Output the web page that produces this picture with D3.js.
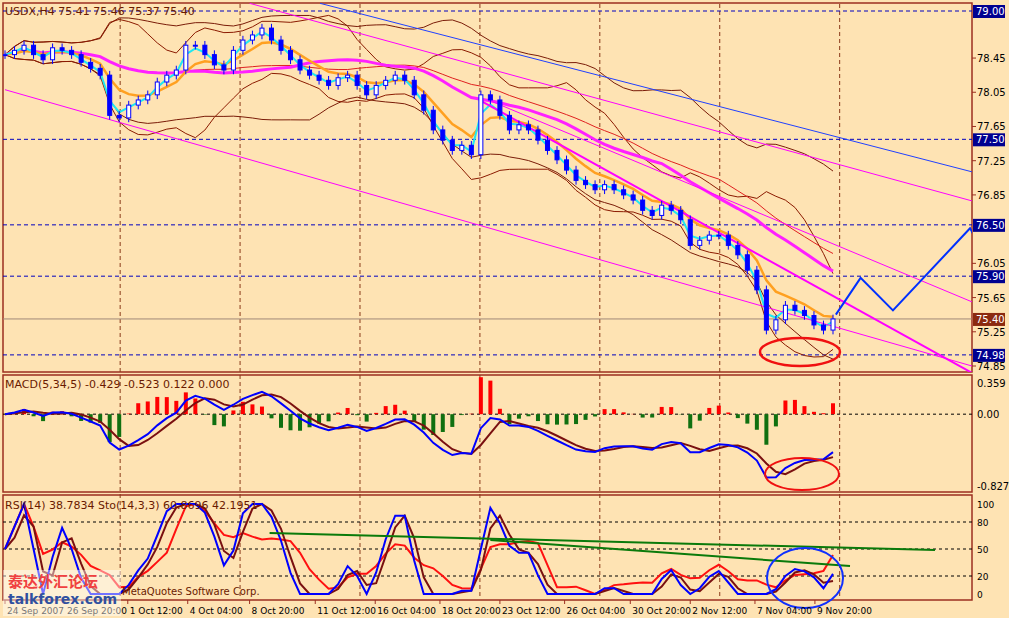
<!DOCTYPE html><html><head><meta charset="utf-8">
<script src="https://cdn.jsdelivr.net/npm/d3@7"></script>
<style>body{margin:0;background:#fee3b3}svg{display:block;font-family:Tahoma,"DejaVu Sans",sans-serif}</style></head><body>
<svg id="c" width="1009" height="618"></svg>
<script>
const closes=[78.49,78.54,78.60,78.49,78.43,78.57,78.54,78.49,78.40,78.33,78.25,77.78,77.75,77.90,77.96,78.02,78.17,78.25,78.31,78.60,78.60,78.49,78.37,78.31,78.54,78.66,78.72,78.80,78.66,78.54,78.43,78.31,78.25,78.19,78.13,78.22,78.25,78.13,78.02,78.13,78.19,78.25,78.19,78.02,77.84,77.61,77.49,77.37,77.43,77.32,78.02,77.96,77.78,77.61,77.67,77.61,77.49,77.37,77.26,77.14,77.02,76.97,76.91,76.97,76.91,76.85,76.79,76.67,76.61,76.73,76.67,76.56,76.26,76.32,76.38,76.38,76.26,76.15,75.97,75.74,75.27,75.39,75.56,75.50,75.44,75.33,75.27,75.40];
const priceTicks=[78.45,78.05,77.65,77.25,76.85,76.05,75.65,75.25,74.85];
const levelLines=[79.00,77.50,76.50,75.90,74.98];
const currentPrice=75.40;
const dateLabels=["24 Sep 2007","26 Sep 20:00","1 Oct 12:00","4 Oct 04:00","8 Oct 20:00","11 Oct 12:00","16 Oct 04:00","18 Oct 20:00","23 Oct 12:00","26 Oct 04:00","30 Oct 20:00","2 Nov 12:00","7 Nov 04:00","9 Nov 20:00"];
const dateIdx=[0,6.3,12.9,19.2,25.7,32.6,38.9,45.7,52,58.8,65.7,72,78.8,85.1];
const gridIdx=[12.1,24.7,37.3,49.9,62.5,75.1,87.7];
const projection=[[87.3,75.45],[89.9,75.88],[93.3,75.50],[101.4,76.46],[101.9,76.36]];
const trendLines=[ // [i1,p1,i2,p2,width,color]
 [25.7,79.09,101.6,76.78,1,"#ff00ff"],[0,78.08,101.6,74.85,1,"#ff00ff"],[50,77.95,101.6,74.77,2,"#ff00ff"],[51,77.95,101.6,75.60,1,"#ff00ff"],[33.1,79.09,101.6,77.12,1,"#2040ff"]];
const macdTicks=[0.359,0,-0.827], rsiTicks=[100,80,50,20,0];

const svg=d3.select("#c"), n=closes.length;
const x=d3.scaleLinear().domain([0,n-1]).range([5,833]);
const y=d3.scaleLinear().domain([74.85,79.00]).range([366,11]);
const ym=d3.scaleLinear().domain([-0.827,0.359]).range([486,383]);
const yr=d3.scaleLinear().domain([0,100]).range([594,504]);
const frame="#9c2f20", grid="#8b3a1a";
svg.append("rect").attr("width",1009).attr("height",618).attr("fill","#fee3b3");
[[3,3,969,369],[3,375,969,117],[3,495,969,105]].forEach(r=>svg.append("rect").attr("x",r[0]).attr("y",r[1]).attr("width",r[2]).attr("height",r[3]).attr("fill","none").attr("stroke",frame).attr("stroke-width",1.5));
svg.append("clipPath").attr("id","cm").append("rect").attr("x",3).attr("y",3).attr("width",969).attr("height",369);
gridIdx.forEach(g=>svg.append("line").attr("x1",x(g)).attr("x2",x(g)).attr("y1",4).attr("y2",599).attr("stroke",grid).attr("stroke-dasharray","4,3"));
const ema=(a,p)=>{const k=2/(p+1);let r=[],e=a[0];a.forEach((v,i)=>{e=i?v*k+e*(1-k):v;r.push(e)});return r};
const sma=(a,p)=>a.map((v,i)=>{const s=a.slice(Math.max(0,i-p+1),i+1);return d3.mean(s)});
const sd=(a,p)=>a.map((v,i)=>{const s=a.slice(Math.max(0,i-p+1),i+1);return d3.deviation(s)||0});
const m10=sma(closes,10),s10=sd(closes,10),m20=sma(closes,22),s20=sd(closes,22);
const line=(ys)=>d3.line().x((d,i)=>x(i)).y(d=>ys(d));
const g=svg.append("g").attr("clip-path","url(#cm)");
levelLines.forEach(l=>g.append("line").attr("x1",3).attr("x2",972).attr("y1",y(l)).attr("y2",y(l)).attr("stroke","#0000c0").attr("stroke-dasharray","4,3"));
g.append("line").attr("x1",3).attr("x2",972).attr("y1",y(currentPrice)).attr("y2",y(currentPrice)).attr("stroke","#a08878");
const draw=(arr,c,w,yy=y)=>g.append("path").attr("d",line(yy)(arr)).attr("fill","none").attr("stroke",c).attr("stroke-width",w);
draw(m20.map((m,i)=>m+2*s20[i]),"#7a1c08",1);draw(m20.map((m,i)=>m-2*s20[i]),"#7a1c08",1);
draw(m10.map((m,i)=>m+2*s10[i]),"#8b1a00",1);draw(m10.map((m,i)=>m-2*s10[i]),"#8b1a00",1);
draw(sma(closes,26),"#e02020",1);
draw(sma(closes,20),"#ff20ff",3);
draw(ema(closes,6),"#ffa020",2.5);
draw(ema(closes,2),"#20e8f0",2);
trendLines.forEach(t=>g.append("line").attr("x1",x(t[0])).attr("y1",y(t[1])).attr("x2",x(t[2])).attr("y2",y(t[3])).attr("stroke",t[5]).attr("stroke-width",t[4]));
closes.forEach((c,i)=>{const o=i?closes[i-1]:c, hi=Math.max(o,c)+0.05, lo=Math.min(o,c)-0.05, cx=x(i);
 g.append("line").attr("x1",cx).attr("x2",cx).attr("y1",y(hi)).attr("y2",y(lo)).attr("stroke","#0000ff");
 g.append("rect").attr("x",cx-2).attr("width",4).attr("y",y(Math.max(o,c))).attr("height",Math.max(1,Math.abs(y(o)-y(c)))).attr("fill",c>=o?"#fff":"#0000ff").attr("stroke","#0000ff");});
g.append("path").attr("d",d3.line().x(d=>x(d[0])).y(d=>y(d[1]))(projection)).attr("fill","none").attr("stroke","#0030ff").attr("stroke-width",2);
g.append("ellipse").attr("cx",800).attr("cy",352).attr("rx",40).attr("ry",14).attr("fill","none").attr("stroke","#f01010").attr("stroke-width",2.5);
const ax=svg.append("g").attr("font-size",10);
priceTicks.forEach(p=>{ax.append("line").attr("x1",972).attr("x2",976).attr("y1",y(p)).attr("y2",y(p)).attr("stroke",frame);ax.append("text").attr("x",977).attr("y",y(p)+4).text(p.toFixed(2));});
levelLines.concat([currentPrice]).forEach(p=>{ax.append("rect").attr("x",973).attr("y",y(p)-6).attr("width",32).attr("height",13).attr("fill",p===currentPrice?"#8b2a10":"#000090");ax.append("text").attr("x",976).attr("y",y(p)+4).attr("fill","#fff").text(p.toFixed(2));});
svg.append("text").attr("x",5).attr("y",15).attr("font-size",11).attr("fill","#6a1a00").text("USDX,H4  75.41 75.46 75.37 75.40");
const macd=ema(closes,3).map((v,i)=>v-ema(closes,17)[i]), sig=sma(macd,3);
svg.append("line").attr("x1",3).attr("x2",972).attr("y1",ym(0)).attr("y2",ym(0)).attr("stroke","#000").attr("stroke-dasharray","3,3");
macd.forEach((m,i)=>{const h=(m-sig[i])*2.2;svg.append("rect").attr("x",x(i)-2).attr("width",4).attr("y",Math.min(ym(0),ym(h))).attr("height",Math.abs(ym(h)-ym(0))).attr("fill",h>=0?"#ff0000":"#107010");});
svg.append("path").attr("d",line(ym)(sig)).attr("fill","none").attr("stroke","#7a1010").attr("stroke-width",2);
svg.append("path").attr("d",line(ym)(macd)).attr("fill","none").attr("stroke","#0000ff").attr("stroke-width",2);
svg.append("ellipse").attr("cx",802).attr("cy",474).attr("rx",37).attr("ry",16).attr("fill","none").attr("stroke","#f01010").attr("stroke-width",2);
macdTicks.forEach(t=>ax.append("text").attr("x",977).attr("y",ym(t)+4).text(t===0?"0.00":t.toFixed(3)));
svg.append("text").attr("x",5).attr("y",388).attr("font-size",11).attr("fill","#6a1a00").text("MACD(5,34,5) -0.429 -0.523 0.122 0.000");
const rsi=closes.map((c,i)=>{let u=0,d=0;for(let j=Math.max(1,i-6);j<=i;j++){const df=closes[j]-closes[j-1];df>0?u+=df:d-=df;}return u+d?100*u/(u+d):50;});
const stK=sma(closes.map((c,i)=>{const s=closes.slice(Math.max(0,i-6),i+1),lo=d3.min(s),hi=d3.max(s);return hi>lo?100*(c-lo)/(hi-lo):50;}),2), stD=sma(stK,2);
[80,50,20].forEach(t=>svg.append("line").attr("x1",3).attr("x2",972).attr("y1",yr(t)).attr("y2",yr(t)).attr("stroke","#000").attr("stroke-dasharray","3,3"));
svg.append("path").attr("d",line(yr)(sma(rsi,2))).attr("fill","none").attr("stroke","#ff1010").attr("stroke-width",2);
svg.append("path").attr("d",line(yr)(stD)).attr("fill","none").attr("stroke","#7a1010").attr("stroke-width",2);
svg.append("path").attr("d",line(yr)(stK)).attr("fill","none").attr("stroke","#0000ff").attr("stroke-width",2);
svg.append("line").attr("x1",x(27.8)).attr("x2",935).attr("y1",533).attr("y2",550).attr("stroke","#0a7a0a").attr("stroke-width",2);
svg.append("line").attr("x1",x(51)).attr("x2",850).attr("y1",540).attr("y2",566).attr("stroke","#0a7a0a").attr("stroke-width",2);
svg.append("ellipse").attr("cx",805).attr("cy",578).attr("rx",38).attr("ry",30).attr("fill","none").attr("stroke","#1030ff").attr("stroke-width",2);
rsiTicks.forEach(t=>ax.append("text").attr("x",977).attr("y",yr(t)+4).attr("font-size",9).text(t));
svg.append("text").attr("x",5).attr("y",509).attr("font-size",11).attr("fill","#6a1a00").text("RSI(14) 38.7834  Sto(14,3,3) 60.8696 42.1951");
dateLabels.forEach((d,i)=>{svg.append("line").attr("x1",x(dateIdx[i])).attr("x2",x(dateIdx[i])).attr("y1",600).attr("y2",604).attr("stroke",frame);svg.append("text").attr("x",x(dateIdx[i])+2).attr("y",614).attr("font-size",9).text(d);});
svg.append("rect").attr("x",3).attr("y",570).attr("width",118).attr("height",46).attr("fill","#fff").attr("opacity",0.45);
svg.append("text").attr("x",8).attr("y",587).attr("font-size",15).attr("font-weight","bold").attr("fill","#f04040").attr("font-family","Noto Sans CJK SC").text("泰达外汇论坛");
svg.append("text").attr("x",122).attr("y",595).attr("font-size",10).attr("fill","#6a1a00").text("MetaQuotes Software Corp.");
svg.append("text").attr("x",8).attr("y",604).attr("font-size",14).attr("font-weight","bold").attr("fill","#3050a0").text("talkforex.com");
</script></body></html>
